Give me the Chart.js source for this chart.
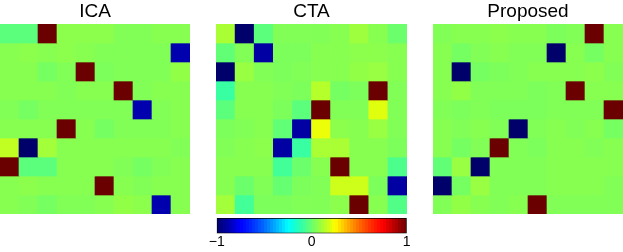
<!DOCTYPE html>
<html>
<head>
<meta charset="utf-8">
<script src="https://cdn.jsdelivr.net/npm/chart.js@4"></script>
<style>
  body { margin: 0; background: #fff; }
  #wrap { position: relative; width: 623px; height: 252px; overflow: hidden; }
  canvas { position: absolute; }
</style>
</head>
<body>
<div id="wrap">
  <canvas id="ica" width="190" height="214" style="left:0px;top:0px"></canvas>
  <canvas id="cta" width="191" height="214" style="left:216px;top:0px"></canvas>
  <canvas id="prop" width="190" height="214" style="left:433px;top:0px"></canvas>
  <canvas id="cbar" width="232" height="38" style="left:196px;top:214px"></canvas>
</div>
<script>
// column labels of every 10x10 matrix
var cols = ['1','2','3','4','5','6','7','8','9','10'];

// ICA matrix, rows top to bottom
var icaRows = [
  [-0.03,-0.03, 1.00, 0.06, 0.06, 0.06, 0.04, 0.04, 0.05, 0.05],
  [ 0.05, 0.06, 0.05, 0.06, 0.05, 0.04, 0.04, 0.04, 0.04,-0.88],
  [ 0.05, 0.05, 0.02, 0.04, 1.00, 0.03, 0.04, 0.04, 0.04, 0.07],
  [ 0.05, 0.05, 0.05, 0.04, 0.05, 0.05, 1.00, 0.04, 0.05, 0.05],
  [ 0.04, 0.02, 0.04, 0.04, 0.04, 0.04, 0.04,-0.88, 0.04, 0.05],
  [ 0.05, 0.05, 0.05, 1.00, 0.05, 0.02, 0.04, 0.04, 0.04, 0.05],
  [ 0.15,-1.00, 0.10, 0.05, 0.05, 0.05, 0.05, 0.05, 0.05, 0.04],
  [ 1.00,-0.03,-0.03, 0.05, 0.05, 0.05, 0.04, 0.02, 0.04, 0.05],
  [ 0.05, 0.06, 0.05, 0.05, 0.05, 1.00, 0.05, 0.04, 0.05, 0.05],
  [ 0.05, 0.04, 0.02, 0.04, 0.04, 0.05, 0.07, 0.06,-0.88, 0.05]
];

// CTA matrix
var ctaRows = [
  [ 0.11,-1.00,-0.03, 0.04, 0.04, 0.04, 0.05, 0.09, 0.05, 0.00],
  [-0.02, 0.04,-0.90, 0.03, 0.03, 0.05, 0.05, 0.06, 0.06, 0.05],
  [-1.00, 0.08, 0.04, 0.03, 0.04, 0.05, 0.05, 0.07, 0.08, 0.05],
  [-0.10, 0.05, 0.05, 0.04, 0.03, 0.13, 0.02, 0.03, 1.00, 0.04],
  [-0.03, 0.05, 0.05, 0.03,-0.03, 1.00, 0.04, 0.04, 0.20, 0.04],
  [ 0.03, 0.04, 0.05,-0.02,-0.90, 0.22, 0.06, 0.05, 0.08, 0.04],
  [ 0.04, 0.05, 0.06,-0.90,-0.10, 0.11, 0.11, 0.05, 0.05, 0.03],
  [ 0.05, 0.05, 0.05,-0.08, 0.00, 0.05, 1.00, 0.05, 0.05,-0.06],
  [ 0.05, 0.00, 0.04,-0.01, 0.03, 0.04, 0.17, 0.17, 0.03,-0.90],
  [ 0.10,-0.08, 0.03, 0.03, 0.04, 0.04, 0.06, 1.00, 0.05,-0.05]
];

// Proposed matrix
var propRows = [
  [ 0.04, 0.05, 0.05, 0.06, 0.05, 0.05, 0.03, 0.04, 1.00, 0.05],
  [ 0.05, 0.02, 0.04, 0.05, 0.04, 0.04,-1.00, 0.05, 0.02, 0.05],
  [ 0.05,-1.00, 0.02, 0.03, 0.04, 0.05, 0.05, 0.05, 0.06, 0.04],
  [ 0.05, 0.07, 0.04, 0.04, 0.04, 0.03, 0.04, 1.00, 0.05, 0.05],
  [ 0.04, 0.03, 0.04, 0.03, 0.03, 0.03, 0.04, 0.04, 0.04, 1.00],
  [ 0.05, 0.04, 0.05, 0.04,-1.00, 0.04, 0.05, 0.04, 0.05, 0.02],
  [ 0.05, 0.02, 0.04, 1.00, 0.04, 0.03, 0.05, 0.05, 0.04, 0.05],
  [-0.02, 0.08,-1.00, 0.04, 0.04, 0.04, 0.05, 0.05, 0.05, 0.05],
  [-1.00, 0.02, 0.08, 0.04, 0.04, 0.04, 0.05, 0.05, 0.05, 0.04],
  [ 0.04, 0.07, 0.05, 0.04, 0.05, 1.00, 0.04, 0.04, 0.04, 0.04]
];

// colour bar range and ticks
var cbarRange = [-1, 1];
var cbarTicks = [-1, 0, 1];

var fontFam = '"Liberation Sans", Arial, Helvetica, sans-serif';

function clamp(x) { return Math.max(0, Math.min(1, x)); }
// jet colormap, v in [-1,1] (slight gamma to match the saturated print look)
function jet(v) {
  var t = (v + 1) / 2;
  var r = Math.pow(clamp(1.5 - Math.abs(4 * t - 3)), 1.25);
  var g = Math.pow(clamp(1.5 - Math.abs(4 * t - 2)), 1.25);
  var b = Math.pow(clamp(1.5 - Math.abs(4 * t - 1)), 1.25);
  return 'rgb(' + Math.round(r * 255) + ',' + Math.round(g * 255) + ',' + Math.round(b * 255) + ')';
}

function heatmap(id, title, rows) {
  var datasets = rows.map(function (row, r) {
    return {
      label: 'row ' + (r + 1),
      data: row.map(function () { return 1; }),
      backgroundColor: row.map(jet),
      borderWidth: 0,
      barPercentage: 1,
      categoryPercentage: 1
    };
  });
  return new Chart(document.getElementById(id), {
    type: 'bar',
    data: { labels: cols, datasets: datasets },
    options: {
      responsive: false,
      animation: false,
      layout: { padding: 0 },
      plugins: {
        legend: { display: false },
        tooltip: { enabled: false },
        title: {
          display: true,
          text: title,
          color: '#000',
          font: { family: fontFam, size: 19, weight: 'normal' },
          padding: { top: 0, bottom: 1.2 }
        }
      },
      scales: {
        x: { display: false, stacked: true },
        y: { display: false, stacked: true, min: 0, max: rows.length, reverse: true }
      }
    }
  });
}

heatmap('ica', 'ICA', icaRows);
heatmap('cta', 'CTA', ctaRows);
heatmap('prop', 'Proposed', propRows);

// colour bar
new Chart(document.getElementById('cbar'), {
  type: 'bar',
  data: {
    labels: [''],
    datasets: [{
      data: [cbarRange],
      backgroundColor: function (ctx) {
        var a = ctx.chart.chartArea;
        if (!a) return '#888';
        var g = ctx.chart.ctx.createLinearGradient(a.left, 0, a.right, 0);
        var n = 64;
        for (var i = 0; i < n; i++) {
          var c = jet(-1 + 2 * (i + 0.5) / n);
          g.addColorStop(i / n, c);
          g.addColorStop((i + 1) / n, c);
        }
        return g;
      },
      borderColor: '#000',
      borderWidth: 1,
      borderSkipped: false,
      barPercentage: 1,
      categoryPercentage: 1
    }]
  },
  options: {
    indexAxis: 'y',
    responsive: false,
    animation: false,
    layout: { padding: { left: 20.7, right: 21.3, top: 4, bottom: 3.2 } },
    plugins: { legend: { display: false }, tooltip: { enabled: false } },
    scales: {
      y: { display: false },
      x: {
        min: cbarRange[0], max: cbarRange[1],
        grid: { display: false, drawTicks: false },
        border: { display: false },
        afterBuildTicks: function (s) { s.ticks = cbarTicks.map(function (v) { return { value: v }; }); },
        ticks: {
          padding: 0,
          color: '#000',
          maxRotation: 0,
          font: { family: fontFam, size: 14 },
          callback: function (v) { return v < 0 ? '\u2212' + Math.abs(v) : String(v); }
        }
      }
    }
  }
});
</script>
</body>
</html>
